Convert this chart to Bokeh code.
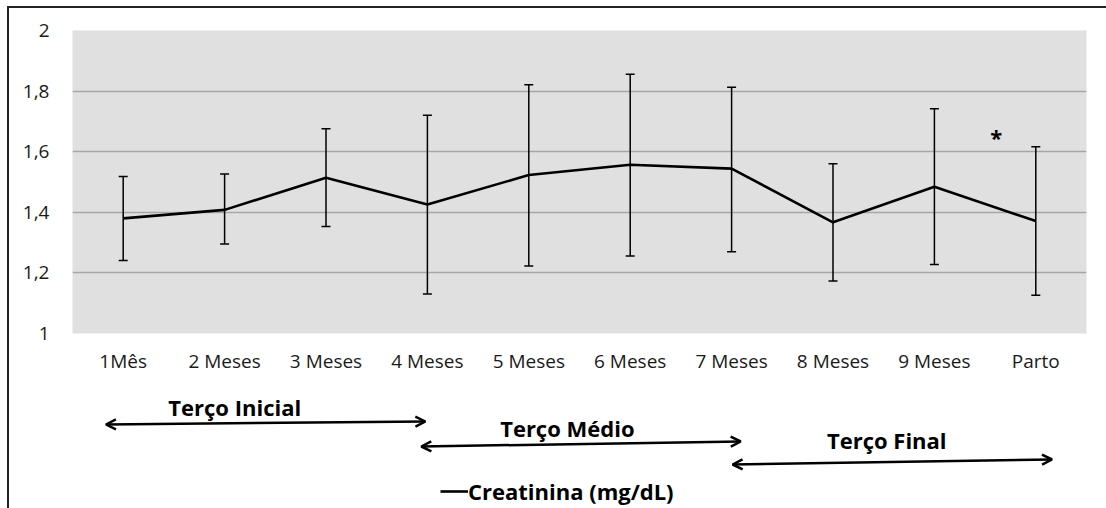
from bokeh.plotting import figure
from bokeh.layouts import column
from bokeh.models import (FactorRange, Range1d, FixedTicker, ColumnDataSource, Whisker, TeeHead,
                          Arrow, OpenHead, Label, Legend, LegendItem)
from bokeh.embed import file_html
from bokeh.resources import INLINE

# ---- data ----
categories = ["1Mês", "2 Meses", "3 Meses", "4 Meses", "5 Meses",
              "6 Meses", "7 Meses", "8 Meses", "9 Meses", "Parto"]
means = [1.380, 1.408, 1.514, 1.426, 1.523, 1.557, 1.544, 1.367, 1.484, 1.371]
upper = [1.518, 1.526, 1.676, 1.720, 1.821, 1.856, 1.813, 1.560, 1.742, 1.616]
lower = [1.241, 1.295, 1.353, 1.130, 1.223, 1.256, 1.270, 1.173, 1.228, 1.126]
y_ticks = [1, 1.2, 1.4, 1.6, 1.8, 2]
y_tick_labels = ["1", "1,2", "1,4", "1,6", "1,8", "2"]
series_name = "Creatinina (mg/dL)"
periods = ["Terço Inicial", "Terço Médio", "Terço Final"]
period_start = ["1Mês", "4 Meses", "7 Meses"]
period_end = ["4 Meses", "7 Meses", "Parto"]
star_category = "9 Meses"
star_value = 1.65

# ---- layout (placement, not data) ----
W, H = 1106, 508
FL, FR, FT, FB = 72, 1086, 30, 333      # plot frame in page pixels
SPLIT = 385                              # where the annotation strip starts
arrow_start_off = [-0.17, -0.06, 0.01]
arrow_end_off = [-0.02, 0.09, 0.16]
arrow_y_start = [424, 446, 464]          # page pixels
arrow_y_end = [421, 441, 459]
label_x = [1.60, 4.88, 8.03]
label_y = [406, 427, 439]
star_offset = 0.61
FONT = "Open Sans"


def pos(f):
    return categories.index(f) + 0.5


x_range = FactorRange(*categories, range_padding=0)

# ---------- main chart ----------
p = figure(x_range=x_range, y_range=Range1d(1, 2),
           width=W, height=SPLIT, title=None,
           min_border_left=FL, min_border_right=W - FR,
           min_border_top=FT, min_border_bottom=SPLIT - FB,
           output_backend="svg", toolbar_location=None)

p.background_fill_color = "#e0e0e0"
p.border_fill_alpha = 0
p.outline_line_color = None

for ax in (p.xaxis, p.yaxis):
    ax.axis_line_color = None
    ax.major_tick_line_color = None
    ax.minor_tick_line_color = None
    ax.major_label_text_font = FONT
    ax.major_label_text_font_size = "19px"
    ax.major_label_text_color = "#1a1a1a"
p.yaxis.ticker = FixedTicker(ticks=y_ticks)
p.yaxis.major_label_overrides = dict(zip(y_ticks, y_tick_labels))
p.yaxis.major_label_standoff = 17
p.xaxis.major_label_standoff = 8

p.xgrid.visible = False
p.ygrid.ticker = FixedTicker(ticks=y_ticks)
p.ygrid.grid_line_color = "#a6a6a6"
p.ygrid.grid_line_width = 1.3

src = ColumnDataSource(dict(cat=categories, mean=means, upper=upper, lower=lower))
p.line("cat", "mean", source=src, line_width=2.6, line_color="black")
p.add_layout(Whisker(base="cat", upper="upper", lower="lower", source=src,
                     line_color="black", line_width=1.5,
                     upper_head=TeeHead(size=9, line_width=1.5, line_color="black"),
                     lower_head=TeeHead(size=9, line_width=1.5, line_color="black")))

p.add_layout(Label(x=pos(star_category) + star_offset, y=star_value, text="*",
                   text_font=FONT, text_font_style="bold", text_font_size="22px",
                   text_align="center", text_baseline="middle",
                   text_color="black"))

# ---------- annotation strip (periods + legend) ----------
q = figure(x_range=x_range, y_range=Range1d(H, SPLIT),
           width=W, height=H - SPLIT, title=None, min_border=0,
           min_border_left=FL, min_border_right=W - FR,
           x_axis_type=None, y_axis_type=None,
           output_backend="svg", toolbar_location=None)
q.background_fill_alpha = 0
q.border_fill_alpha = 0
q.outline_line_color = None
q.xgrid.visible = False
q.ygrid.visible = False

for i, name in enumerate(periods):
    q.add_layout(Arrow(x_start=pos(period_start[i]) + arrow_start_off[i], y_start=arrow_y_start[i],
                       x_end=pos(period_end[i]) + arrow_end_off[i], y_end=arrow_y_end[i],
                       line_width=2.5, line_color="black",
                       start=OpenHead(size=10, line_width=2.5, line_color="black"),
                       end=OpenHead(size=10, line_width=2.5, line_color="black")))
    q.add_layout(Label(x=label_x[i], y=label_y[i], text=name, text_font=FONT,
                       text_font_style="bold", text_font_size="22px",
                       text_align="center", text_baseline="middle", text_color="black"))

# the series line again (its values lie outside this strip, so only its legend key shows)
key = q.line("cat", "mean", source=src, line_width=2.6, line_color="black")
legend = Legend(items=[LegendItem(label=series_name, renderers=[key])],
                location=(440 - FL, 2), padding=0, margin=0, spacing=0,
                border_line_color=None, background_fill_alpha=0,
                glyph_width=28, glyph_height=24, label_standoff=0, label_height=24,
                label_text_font=FONT, label_text_font_style="bold",
                label_text_font_size="22px", label_text_color="black")
q.add_layout(legend, "center")

layout = column(p, q, spacing=0, styles={
    "background": "linear-gradient(#222,#222) 7px 6px / 2px calc(100% - 6px) no-repeat, "
                  "linear-gradient(#222,#222) 7px 6px / calc(100% - 7px) 2px no-repeat, #ffffff"})

open("out.html", "w").write(file_html(layout, INLINE))
